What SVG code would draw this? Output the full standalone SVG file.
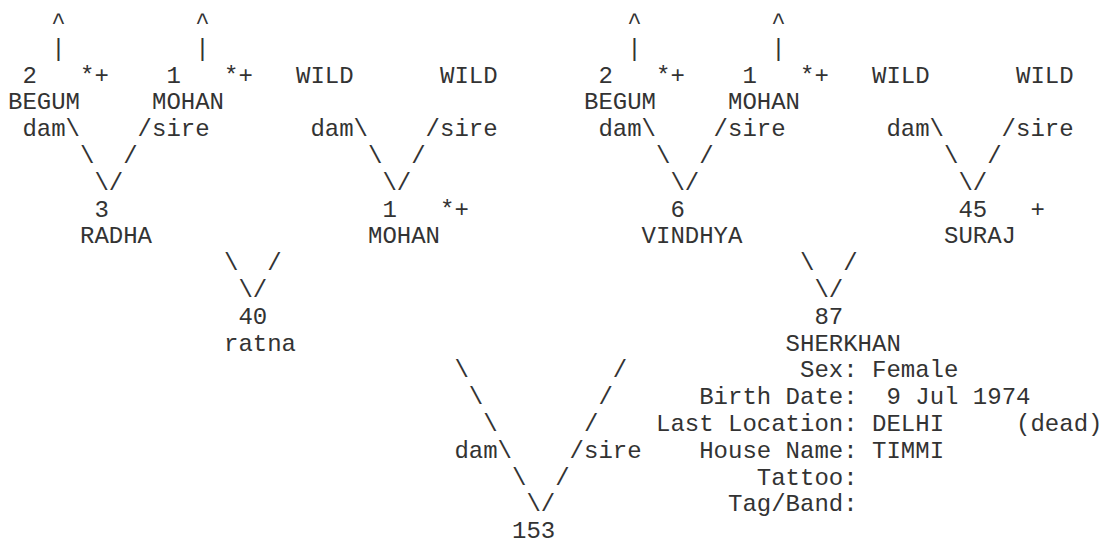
<svg xmlns="http://www.w3.org/2000/svg" width="1103" height="549" viewBox="0 0 1103 549">
<style>
text{font-family:"Liberation Mono","Courier New",monospace;font-size:24px;fill:#333;white-space:pre}
</style>
<rect width="1103" height="549" fill="#fff"/>
<g id="connectors">
<text x="51.2" y="29">^</text><text x="195.2" y="29">^</text><text x="627.2" y="29">^</text><text x="771.2" y="29">^</text>
<text x="51.2" y="55.8">|</text><text x="195.2" y="55.8">|</text><text x="627.2" y="55.8">|</text><text x="771.2" y="55.8">|</text>
<text x="22.4" y="136.2">dam\</text><text x="137.6" y="136.2">/sire</text>
<text x="310.4" y="136.2">dam\</text><text x="425.6" y="136.2">/sire</text>
<text x="598.4" y="136.2">dam\</text><text x="713.6" y="136.2">/sire</text>
<text x="886.4" y="136.2">dam\</text><text x="1001.6" y="136.2">/sire</text>
<text x="80" y="163">\</text><text x="123.2" y="163">/</text>
<text x="368" y="163">\</text><text x="411.2" y="163">/</text>
<text x="656" y="163">\</text><text x="699.2" y="163">/</text>
<text x="944" y="163">\</text><text x="987.2" y="163">/</text>
<text x="94.4" y="189.8">\/</text><text x="382.4" y="189.8">\/</text><text x="670.4" y="189.8">\/</text><text x="958.4" y="189.8">\/</text>
<text x="224" y="270.2">\</text><text x="267.2" y="270.2">/</text>
<text x="800" y="270.2">\</text><text x="843.2" y="270.2">/</text>
<text x="238.4" y="297">\/</text><text x="814.4" y="297">\/</text>
<text x="454.4" y="377.4">\</text><text x="612.8" y="377.4">/</text>
<text x="468.8" y="404.2">\</text><text x="598.4" y="404.2">/</text>
<text x="483.2" y="431">\</text><text x="584" y="431">/</text>
<text x="454.4" y="457.8">dam\</text><text x="569.6" y="457.8">/sire</text>
<text x="512" y="484.6">\</text><text x="555.2" y="484.6">/</text>
<text x="526.4" y="511.4">\/</text>
</g>
<g id="begum-a"><text x="22.4" y="82.6">2</text><text x="80" y="82.6">*+</text><text x="8" y="109.4">BEGUM</text></g>
<g id="mohan-a"><text x="166.4" y="82.6">1</text><text x="224" y="82.6">*+</text><text x="152" y="109.4">MOHAN</text></g>
<g id="wild-a"><text x="296" y="82.6">WILD</text></g>
<g id="wild-b"><text x="440" y="82.6">WILD</text></g>
<g id="begum-b"><text x="598.4" y="82.6">2</text><text x="656" y="82.6">*+</text><text x="584" y="109.4">BEGUM</text></g>
<g id="mohan-b"><text x="742.4" y="82.6">1</text><text x="800" y="82.6">*+</text><text x="728" y="109.4">MOHAN</text></g>
<g id="wild-c"><text x="872" y="82.6">WILD</text></g>
<g id="wild-d"><text x="1016" y="82.6">WILD</text></g>
<g id="radha"><text x="94.4" y="216.6">3</text><text x="80" y="243.4">RADHA</text></g>
<g id="mohan-c"><text x="382.4" y="216.6">1</text><text x="440" y="216.6">*+</text><text x="368" y="243.4">MOHAN</text></g>
<g id="vindhya"><text x="670.4" y="216.6">6</text><text x="641.6" y="243.4">VINDHYA</text></g>
<g id="suraj"><text x="958.4" y="216.6">45</text><text x="1030.4" y="216.6">+</text><text x="944" y="243.4">SURAJ</text></g>
<g id="ratna"><text x="238.4" y="323.8">40</text><text x="224" y="350.6">ratna</text></g>
<g id="sherkhan"><text x="814.4" y="323.8">87</text><text x="785.6" y="350.6">SHERKHAN</text>
<text x="800" y="377.4">Sex: Female</text>
<text x="699.2" y="404.2">Birth Date:  9 Jul 1974</text>
<text x="656" y="431">Last Location: DELHI     (dead)</text>
<text x="699.2" y="457.8">House Name: TIMMI</text>
<text x="756.8" y="484.6">Tattoo:</text>
<text x="728" y="511.4">Tag/Band:</text></g>
<g id="n153"><text x="512" y="538.2">153</text></g>
</svg>
